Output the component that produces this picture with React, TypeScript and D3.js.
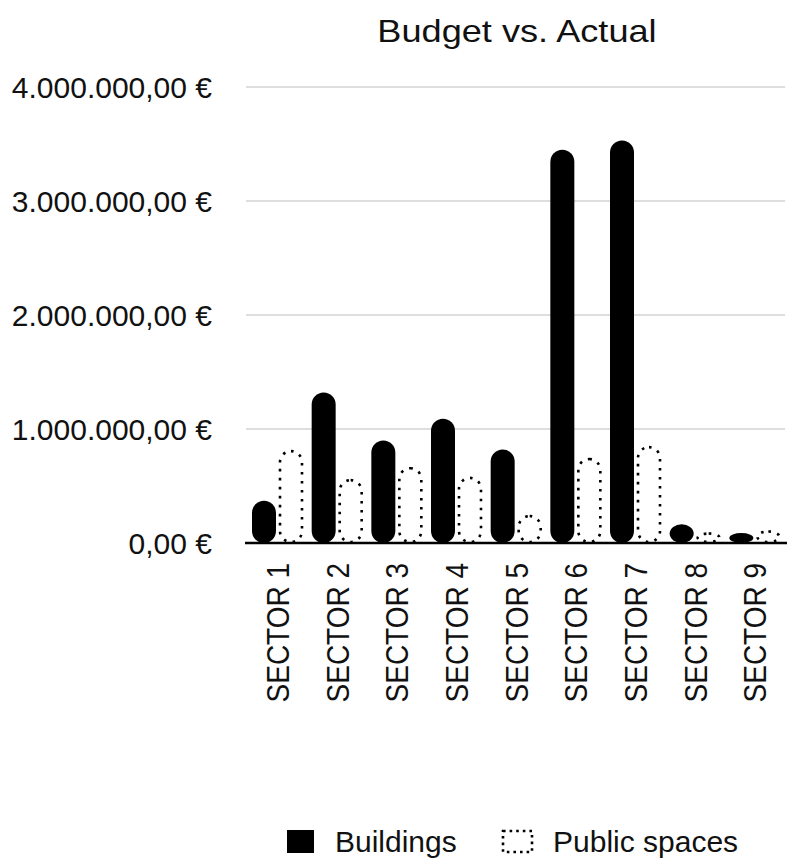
import React from "react";
import * as d3 from "d3";

const title = "Budget vs. Actual";
const categories = ["SECTOR 1", "SECTOR 2", "SECTOR 3", "SECTOR 4", "SECTOR 5", "SECTOR 6", "SECTOR 7", "SECTOR 8", "SECTOR 9"];
const buildings = [370000, 1320000, 900000, 1090000, 820000, 3450000, 3530000, 165000, 88000];
const publicSpaces = [815000, 560000, 665000, 580000, 245000, 745000, 850000, 92000, 110000];
const yTicks = [0, 1000000, 2000000, 3000000, 4000000];
const seriesNames = ["Buildings", "Public spaces"];

const W = 795;
const H = 865;
const FONT = "'Liberation Sans', Arial, Helvetica, sans-serif";
const SX = 1.13;

const locale = d3.formatLocale({ decimal: ",", thousands: ".", grouping: [3], currency: ["", " €"] });
const fmt = locale.format("$,.2f");

export default function App() {
  const x = d3.scaleBand<string>().domain(categories).range([247, 784]).paddingInner(0).paddingOuter(0);
  const y = d3.scaleLinear().domain([0, 4000000]).range([543, 87]);
  const barW = 24;
  const gap = 3;
  const offset = 5;
  const bw = x.bandwidth();

  return (
    <svg width={W} height={H} style={{ position: "absolute", left: 0, top: 0, background: "#fff" }} fontFamily={FONT}>
      <rect x={0} y={0} width={W} height={H} fill="#fff" />
      <text transform={`translate(517,42) scale(${SX},1)`} textAnchor="middle" fontSize={32} fill="#111">{title}</text>
      {yTicks.map((t) => (
        <g key={t}>
          {t !== 0 && <line x1={246} x2={785} y1={y(t)} y2={y(t)} stroke="#bdbdbd" strokeWidth={1} />}
          <text x={212} y={y(t) + 11} textAnchor="end" fontSize={30} fill="#111">{fmt(t)}</text>
        </g>
      ))}
      {categories.map((c, i) => {
        const x0 = (x(c) as number) + offset;
        const hb = y(0) - y(buildings[i]);
        const hp = y(0) - y(publicSpaces[i]);
        return (
          <g key={c}>
            <rect x={x0} y={y(buildings[i])} width={barW} height={hb} rx={barW / 2} ry={Math.min(barW / 2, hb / 2)} fill="#000" />
            <rect x={x0 + barW + gap + 1} y={y(publicSpaces[i]) + 1} width={barW - 2} height={Math.max(hp - 2, 0)}
              rx={(barW - 2) / 2} ry={Math.min((barW - 2) / 2, (hp - 2) / 2)}
              fill="none" stroke="#000" strokeWidth={2.6} strokeDasharray="2.6 6.4" />
            <text transform={`translate(${(x(c) as number) + bw / 2 + 12},563) scale(${SX},1) rotate(-90)`} textAnchor="end" fontSize={28} fill="#111">{c}</text>
          </g>
        );
      })}
      <line x1={245} x2={787} y1={543} y2={543} stroke="#000" strokeWidth={2.6} />
      <g>
        <rect x={287} y={830} width={27} height={23} fill="#000" />
        <text x={335} y={852} fontSize={30} fill="#111">{seriesNames[0]}</text>
        <rect x={503} y={831} width={29} height={21} fill="none" stroke="#000" strokeWidth={2.6} strokeDasharray="2.6 4" />
        <text x={553} y={852} fontSize={30} fill="#111">{seriesNames[1]}</text>
      </g>
    </svg>
  );
}
